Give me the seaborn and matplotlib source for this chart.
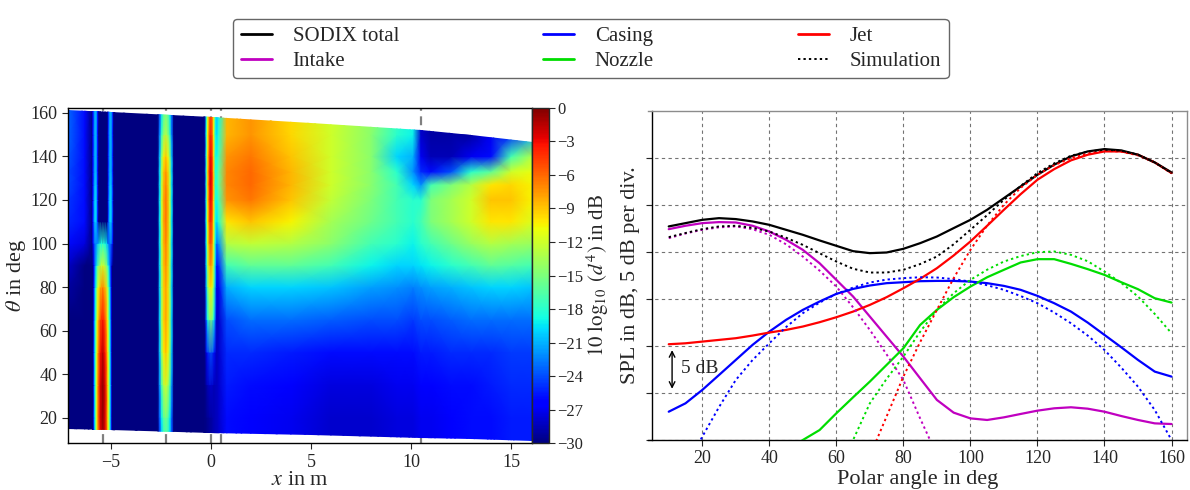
import numpy as np
import matplotlib
matplotlib.use("Agg")
import matplotlib.pyplot as plt
import seaborn as sns
from matplotlib.patches import Polygon
from matplotlib.lines import Line2D

sns.set_style("ticks")
plt.rcParams["font.family"] = ["Liberation Serif", "DejaVu Serif"]
plt.rcParams["mathtext.fontset"] = "stix"
plt.rcParams["axes.unicode_minus"] = True

# ---------------- source map (left) ----------------
map_theta = [8, 20, 35, 50, 65, 80, 90, 100, 110, 120, 127, 133, 140, 150, 163]
map_x = [-7.2, -6.3, -5.9, -4.8, -0.35, 0.4, 0.8, 2, 4, 6, 8, 9.3, 10.1, 10.5,
         11, 12, 13, 14, 15, 16.1]
# background level in dB, one row per theta in map_theta, one entry per map_x
bg_db = [
    [-30, -30, -30, -30, -30, -28, -26, -26.5, -27, -28, -28, -27.5, -27.5, -27, -27, -26.5, -26, -26, -25.5, -25.5],
    [-30, -30, -30, -30, -30, -28, -26, -26.5, -27, -28, -28, -27.5, -27.5, -27, -27, -26.5, -26, -26, -25.5, -25.5],
    [-30, -30, -30, -30, -30, -28, -25.5, -26, -26.5, -27.5, -27.5, -27, -27, -26.5, -26.5, -26, -26, -25.5, -25, -25],
    [-30, -30, -30, -30, -30, -28, -25, -25, -25.5, -26, -26, -26, -26, -25.5, -25.5, -25, -25, -25, -24.5, -24.5],
    [-30, -30, -30, -30, -30, -28, -24, -23, -23, -23.5, -24, -24, -24.5, -24, -24, -23.5, -23, -23, -23, -23],
    [-29, -30, -30, -30, -30, -27, -21, -20, -20, -20.5, -21.5, -22, -22.5, -22, -21.5, -21, -20.5, -20, -20, -20.5],
    [-28, -30, -30, -30, -30, -25, -17, -16, -16, -17, -19, -20, -20, -19.5, -19, -18, -17, -16, -16.5, -17],
    [-26, -27.5, -30, -30, -30, -22, -13, -12.5, -13, -14.5, -17, -18, -19, -18, -17, -15.5, -14, -13, -13.5, -14],
    [-25, -26, -30, -30, -30, -18, -10, -9, -10.5, -13.5, -15.5, -17, -18, -17, -15, -13.5, -12, -10, -10, -11.5],
    [-24.5, -26, -30, -30, -30, -17, -7.5, -6.5, -9, -12.5, -15, -17, -18, -18, -15, -13.5, -12, -9, -9, -10.5],
    [-24, -26, -30, -30, -30, -16, -7, -6, -8.5, -12, -14.5, -17, -20, -22, -17, -15, -13, -10, -9.5, -10.5],
    [-24, -26, -30, -30, -30, -16, -7, -6, -8.5, -12, -14.5, -18, -22, -25, -26, -24, -18, -16, -12, -11],
    [-23.5, -26, -30, -30, -30, -17, -7.5, -6.5, -9, -12, -14.5, -20, -21, -27, -28.5, -28.5, -27, -26, -17, -13],
    [-23, -26, -30, -30, -30, -18, -8.5, -7.5, -9.5, -12, -14.5, -18, -19, -28, -29, -29, -29, -27, -25, -21],
    [-23, -26, -30, -30, -30, -19, -8.5, -7.5, -9.5, -12, -14, -17, -19, -28, -29, -29, -29, -28, -26, -24],
]

# line sources: centre position, half width and peak level per theta
intake_x = -5.4
intake_halfwidth = 0.48
intake_peak = [-1, -0.5, -0.5, -1.5, -3.5, -7, -12, -18, -30, -30, -30, -30, -30, -30, -30]
intake_lip_x = [-5.75, -5.0]
intake_lip_halfwidth = 0.16
intake_lip_peak = [-30, -30, -30, -30, -30, -30, -30, -23, -20, -20, -20.5, -21, -21, -21, -21]
casing_x = -2.25
casing_halfwidth = 0.4
casing_peak = [-17, -15.5, -12, -9, -8, -8, -7.5, -7, -6.5, -6.5, -7, -7.5, -9, -13, -16]
nozzle_x = 0.0
nozzle_halfwidth = 0.3
nozzle_peak = [-30, -30, -28, -24, -15, -10, -7.5, -5.5, -4, -3, -2.5, -2.5, -3, -4, -5]

# extent of the mapped region
edge_x = [-7.2, -5, 0, 5, 10.5, 13, 16.1]
edge_top = [161.2, 160.2, 158.0, 155.3, 152.0, 149.8, 146.5]
edge_bottom = [14.8, 14.4, 12.9, 11.8, 10.7, 10.1, 9.4]

marker_x = [-5.4, -2.25, 0.0, 0.5, 10.5]

# ---------------- directivity (right) ----------------
sodix_angle = list(range(10, 161, 5))
sodix_total = [22.70, 23.05, 23.40, 23.58, 23.48, 23.23, 22.87, 22.34, 21.81, 21.21, 20.64,
               20.07, 19.86, 19.93, 20.32, 20.92, 21.63, 22.52, 23.40, 24.47, 25.71, 26.95,
               28.19, 29.26, 30.14, 30.67, 30.92, 30.78, 30.32, 29.50, 28.44]
sodix_intake = [22.41, 22.77, 23.05, 23.16, 23.12, 22.77, 22.16, 21.28, 20.21, 18.79, 17.02,
                15.25, 13.12, 10.99, 8.87, 6.56, 4.26, 2.91, 2.30, 2.13, 2.41, 2.77,
                3.12, 3.37, 3.48, 3.33, 3.01, 2.55, 2.13, 1.77, 1.70]
sodix_casing = [3.01, 3.90, 5.32, 6.91, 8.51, 10.11, 11.52, 12.77, 13.83, 14.72, 15.53,
                16.06, 16.42, 16.67, 16.77, 16.88, 16.91, 16.91, 16.84, 16.67, 16.38, 15.96,
                15.32, 14.54, 13.65, 12.48, 11.17, 9.86, 8.51, 7.27, 6.74]
sodix_jet = [10.18, 10.28, 10.46, 10.64, 10.82, 11.10, 11.42, 11.70, 12.06, 12.52, 13.05,
             13.65, 14.36, 15.18, 16.13, 17.13, 18.26, 19.61, 21.10, 22.77, 24.47, 26.13,
             27.66, 28.79, 29.72, 30.32, 30.67, 30.67, 30.32, 29.50, 28.37]
sodix_nozzle_angle = list(range(45, 161, 5))
sodix_nozzle = [-1.2, 0.0, 1.06, 2.84, 4.54, 6.21, 7.98, 9.75, 12.23, 13.83, 15.18, 16.31,
                17.30, 18.09, 18.87, 19.22, 19.22, 18.72, 18.16, 17.55, 16.77, 16.03, 15.07, 14.61]

sim_total_angle = list(range(10, 161, 5))
sim_total = [21.56, 22.0, 22.41, 22.70, 22.77, 22.55, 22.16, 21.5, 20.74, 19.85, 18.97,
             18.2, 17.80, 17.8, 18.09, 18.7, 19.50, 20.8, 22.34, 23.9, 25.53, 27.0,
             28.37, 29.4, 30.21, 30.65, 30.85, 30.75, 30.32, 29.5, 28.37]
sim_intake_angle = list(range(10, 91, 5))
sim_intake = [21.45, 21.95, 22.34, 22.6, 22.70, 22.4, 21.81, 20.8, 19.50, 18.0, 16.31,
              14.1, 11.70, 9.1, 6.38, 2.3, -1.6]
sim_casing_angle = list(range(15, 161, 5))
sim_casing = [-3.0, 0.35, 3.5, 6.38, 8.5, 10.28, 12.0, 13.48, 14.6, 15.53, 16.2, 16.74,
              17.05, 17.20, 17.3, 17.27, 17.1, 16.84, 16.45, 15.96, 15.3, 14.54, 13.55,
              12.41, 11.1, 9.57, 7.7, 5.67, 3.19, 0.0]
sim_jet_angle = list(range(65, 161, 5))
sim_jet = [-4.0, -1.7, 2.5, 6.74, 10.4, 13.83, 17.2, 20.21, 22.8, 25.0, 26.8, 28.19,
           29.2, 29.96, 30.45, 30.74, 30.65, 30.25, 29.5, 28.37]
sim_nozzle_angle = list(range(60, 161, 5))
sim_nozzle = [-3.5, 0.0, 3.90, 6.5, 8.87, 11.5, 13.83, 15.6, 17.02, 18.1, 18.97, 19.55,
              19.96, 20.04, 19.68, 19.0, 17.91, 16.7, 15.25, 13.4, 11.35]

C_TOTAL, C_INTAKE, C_CASING = "black", "#c000c0", "#0000ff"
C_NOZZLE, C_JET = "#00dd00", "#ff0000"

# ---------------- figure ----------------
fig = plt.figure(figsize=(11.9, 4.9), dpi=100)

# --- left: source map ---
ax1 = fig.add_axes([0.0569, 0.0953, 0.3902, 0.6849])
cax = fig.add_axes([0.4471, 0.0953, 0.0143, 0.6849])

stripes = [(intake_x, intake_halfwidth, intake_peak),
           (intake_lip_x[0], intake_lip_halfwidth, intake_lip_peak),
           (intake_lip_x[1], intake_lip_halfwidth, intake_lip_peak),
           (casing_x, casing_halfwidth, casing_peak),
           (nozzle_x, nozzle_halfwidth, nozzle_peak)]
# mesh columns: background columns plus a few columns across every source line
offsets = np.array([-1, -0.75, -0.5, -0.25, 0, 0.25, 0.5, 0.75, 1])
nodes = set(np.round(map_x, 4))
for x0, hw, _ in stripes:
    nodes.update(np.round(x0 + hw * offsets, 4))
nodes_x = np.array(sorted(nodes))
theta = np.array(map_theta, float)
bg = np.array(bg_db, float)
level = np.empty((len(theta), len(nodes_x)))
for i in range(len(theta)):
    row = np.interp(nodes_x, map_x, bg[i])
    for x0, hw, peak in stripes:
        d = np.abs(nodes_x - x0) / hw
        line = np.where(d <= 1, peak[i] - (30 + peak[i]) * d ** 2, -np.inf)
        row = np.maximum(row, line)
    level[i] = row
X, Y = np.meshgrid(nodes_x, theta)
mesh = ax1.pcolormesh(X, Y, level, shading="gouraud", cmap="jet",
                      vmin=-30, vmax=0, zorder=1)
outline = list(zip(edge_x, edge_top)) + list(zip(edge_x[::-1], edge_bottom[::-1]))
clip = Polygon(outline, closed=True, transform=ax1.transData)
mesh.set_clip_path(clip)

for xm in marker_x:
    ax1.axvline(xm, color="0.5", lw=1.6, ls=(0, (4, 2.5)), zorder=0.5)

ax1.set_xlim(-7.15, 16.05)
ax1.set_ylim(8.2, 162.4)
ax1.set_xticks([-5, 0, 5, 10, 15])
ax1.set_yticks(range(20, 161, 20))
ax1.set_xlabel("$x$ in m", fontsize=16, labelpad=0)
ax1.set_ylabel(r"$\theta$ in deg", fontsize=16, labelpad=2)
ax1.tick_params(labelsize=13, length=4, direction="out")
for sp in ax1.spines.values():
    sp.set_color("black")
    sp.set_linewidth(1.0)

cb = fig.colorbar(mesh, cax=cax, ticks=np.arange(-30, 1, 3))
cb.set_label(r"$10\ \log_{10}\ (d^4)$ in dB", fontsize=15)
cb.ax.yaxis.set_label_coords(3.05, 0.5)
cb.ax.tick_params(labelsize=12, length=4, pad=2)
cb.outline.set_linewidth(1.0)

# --- right: directivity ---
ax2 = fig.add_axes([0.5445, 0.1020, 0.4532, 0.6721])
lw = 1.6
dot = (0, (1.2, 1.6))
for ang, val, col in [(sodix_angle, sodix_intake, C_INTAKE),
                      (sodix_angle, sodix_casing, C_CASING),
                      (sodix_nozzle_angle, sodix_nozzle, C_NOZZLE),
                      (sodix_angle, sodix_jet, C_JET),
                      (sodix_angle, sodix_total, C_TOTAL)]:
    sns.lineplot(x=ang, y=val, color=col, lw=lw, ax=ax2, zorder=3)
for ang, val, col in [(sim_intake_angle, sim_intake, C_INTAKE),
                      (sim_casing_angle, sim_casing, C_CASING),
                      (sim_nozzle_angle, sim_nozzle, C_NOZZLE),
                      (sim_jet_angle, sim_jet, C_JET),
                      (sim_total_angle, sim_total, C_TOTAL)]:
    sns.lineplot(x=ang, y=val, color=col, lw=1.4, linestyle=dot, ax=ax2, zorder=3)

ax2.set_xlim(3.8, 164.7)
ax2.set_ylim(0, 35)
ax2.set_xticks(range(20, 161, 20))
ax2.set_yticks(range(0, 31, 5))
ax2.set_yticklabels([])
ax2.grid(True, color="0.45", lw=0.8, ls=(0, (3, 3)))
ax2.set_axisbelow(True)
ax2.spines["left"].set_position(("data", 5))
for side in ["top", "right"]:
    ax2.spines[side].set_color("0.55")
    ax2.spines[side].set_linewidth(1.0)
for side in ["left", "bottom"]:
    ax2.spines[side].set_color("black")
    ax2.spines[side].set_linewidth(1.0)
ax2.tick_params(labelsize=13, length=4, direction="out")
ax2.set_xlabel("Polar angle in deg", fontsize=16, labelpad=2)
ax2.set_ylabel("SPL in dB, 5 dB per div.", fontsize=16)
ax2.yaxis.set_label_coords(-0.014, 0.5)

ax2.annotate("", xy=(11, 5), xytext=(11, 10),
             arrowprops=dict(arrowstyle="<->", lw=1.0, color="black",
                             shrinkA=3, shrinkB=3))
ax2.text(13.6, 7.6, "5 dB", fontsize=14, va="center", ha="left")

# --- shared legend ---
handles = [Line2D([], [], color=C_TOTAL, lw=2),
           Line2D([], [], color=C_INTAKE, lw=2),
           Line2D([], [], color=C_CASING, lw=2),
           Line2D([], [], color=C_NOZZLE, lw=2),
           Line2D([], [], color=C_JET, lw=2),
           Line2D([], [], color="black", lw=1.4, ls=dot)]
labels = ["SODIX total", "Intake", "Casing", "Nozzle", "Jet", "Simulation"]
leg = fig.legend(handles, labels, loc="upper center", bbox_to_anchor=(0.4966, 0.982),
                 ncol=3, fontsize=15, frameon=True, fancybox=True,
                 edgecolor="0.25", columnspacing=6.9, handlelength=1.5,
                 handletextpad=1.0, borderpad=0.35, labelspacing=0.25)
leg.get_frame().set_linewidth(1.0)

fig.savefig("out.png", dpi=100)
